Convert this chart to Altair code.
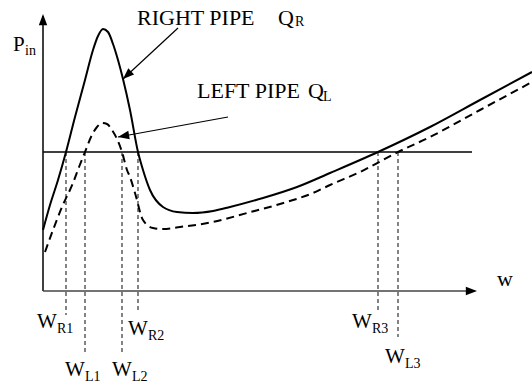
import altair as alt
import pandas as pd

# Inlet pressure P_in against flow w for the two pipes (schematic units)
w_right = [0, 7, 15, 23, 32, 42, 50, 55, 60, 65, 70, 75, 80, 87, 95, 100, 107, 120, 134, 150,
           170, 187, 220, 254, 287, 335, 387, 437, 489]
p_right = [61, 86, 111, 139, 174, 211, 241, 255, 262, 259, 247, 231, 212, 181, 139, 121, 101, 84, 79, 78,
           80, 84, 93, 104, 118, 139, 164, 191, 219]
w_left = [2, 10, 19, 30, 36, 42, 48, 54, 59, 64, 69, 74, 79, 84, 87, 92, 100, 110, 120, 137,
          170, 204, 237, 270, 287, 317, 355, 387, 437, 489]
p_left = [39, 61, 84, 108, 124, 139, 154, 164, 168, 167, 161, 152, 139, 121, 114, 98, 71, 63, 62, 64,
          69, 78, 87, 98, 106, 119, 139, 154, 181, 209]

# Imposed inlet pressure and the flows where each curve meets it
p_level = 139
w_end = 429
cross_names = ["R1", "L1", "L2", "R2", "R3", "L3"]
cross_w = [23, 42, 79, 95, 335, 355]
drop_to = [-24, -62, -62, -19, -22, -46]
label_w = [-6, 22, 69, 85, 309, 342]
label_p = [-37, -85, -85, -44, -37, -72]

SERIF = "Liberation Serif"

xs = alt.Scale(domain=[-43, 489], range=[0, 532], nice=False, zero=False)
ys = alt.Scale(domain=[-95, 291], range=[386, 0], nice=False, zero=False)


def X(f):
    return alt.X(f, type="quantitative", scale=xs, axis=None)


def Y(f):
    return alt.Y(f, type="quantitative", scale=ys, axis=None)


right = pd.DataFrame({"w": w_right, "p": p_right, "i": range(len(w_right))})
left = pd.DataFrame({"w": w_left, "p": p_left, "i": range(len(w_left))})

solid = alt.Chart(right).mark_line(color="black", strokeWidth=2, interpolate="monotone").encode(
    x=X("w"), y=Y("p"), order="i:Q")
dashed = alt.Chart(left).mark_line(color="black", strokeWidth=2, strokeDash=[8, 5],
                                   interpolate="monotone").encode(x=X("w"), y=Y("p"), order="i:Q")

# Axes drawn as plain lines with arrow heads
axes = pd.DataFrame({"x": [0, 0], "y": [0, 0], "x2": [0, 432], "y2": [275, 0],
                     "c": ["#111111", "#444444"]})
axis_lines = alt.Chart(axes).mark_rule(strokeWidth=1.6).encode(
    x=X("x"), y=Y("y"), x2="x2:Q", y2="y2:Q", color=alt.Color("c:N", scale=None))

level = pd.DataFrame({"x": [0], "x2": [w_end], "y": [p_level]})
level_line = alt.Chart(level).mark_rule(color="black", strokeWidth=1.5).encode(
    x=X("x"), x2="x2:Q", y=Y("y"))

drops = pd.DataFrame({"x": cross_w, "y": [p_level] * 6, "y2": drop_to})
drop_lines = alt.Chart(drops).mark_rule(color="#333333", strokeWidth=1.2, strokeDash=[4, 3]).encode(
    x=X("x"), y=Y("y"), y2="y2:Q")

# Leader arrows pointing at each curve
leaders = pd.DataFrame({"x": [135, 185], "y": [263, 174], "x2": [80, 75], "y2": [212, 154]})
leader_lines = alt.Chart(leaders).mark_rule(color="black", strokeWidth=1.2).encode(
    x=X("x"), y=Y("y"), x2="x2:Q", y2="y2:Q")

heads = pd.DataFrame({"x": [0, 434, 80, 75], "y": [277, 0, 212, 154], "ang": [0, 90, 227, 260]})
head_marks = alt.Chart(heads).mark_point(
    shape="M0,0 L-0.38,1 L0.38,1 Z", filled=True, color="black", opacity=1, size=500,
    strokeWidth=0).encode(x=X("x"), y=Y("y"), angle=alt.Angle("ang:Q", scale=None))


def label(t, x, y, size):
    return alt.Chart(pd.DataFrame({"t": [t], "x": [x], "y": [y]})).mark_text(
        font=SERIF, fontSize=size, align="left", baseline="alphabetic", color="black"
    ).encode(x=X("x"), y=Y("y"), text="t:N")


# Text: main letters and their subscripts
text_layers = []
for name, lw, lp in zip(cross_names, label_w, label_p):
    text_layers.append(label("W", lw, lp, 21))
    text_layers.append(label(name, lw + 20, lp - 4.5, 14))
text_layers += [
    label("P", -30, 240, 21),
    label("in", -18, 236, 14),
    label("RIGHT PIPE", 94, 266, 22),
    label("Q", 235, 266, 22),
    label("R", 252, 265, 14),
    label("LEFT PIPE", 154, 193, 22),
    label("Q", 265, 193, 22),
    label("L", 280, 190, 14),
    label("w", 454, 5, 22),
]

chart = alt.layer(level_line, drop_lines, axis_lines, solid, dashed, leader_lines, head_marks,
                  *text_layers).properties(
    width=532, height=386, padding=0, autosize=alt.AutoSizeParams(type="none")
).configure(font=SERIF, background="white").configure_text(font=SERIF).configure_view(stroke=None)

chart.save("out.html", embed_options={"renderer": "svg", "actions": False})
